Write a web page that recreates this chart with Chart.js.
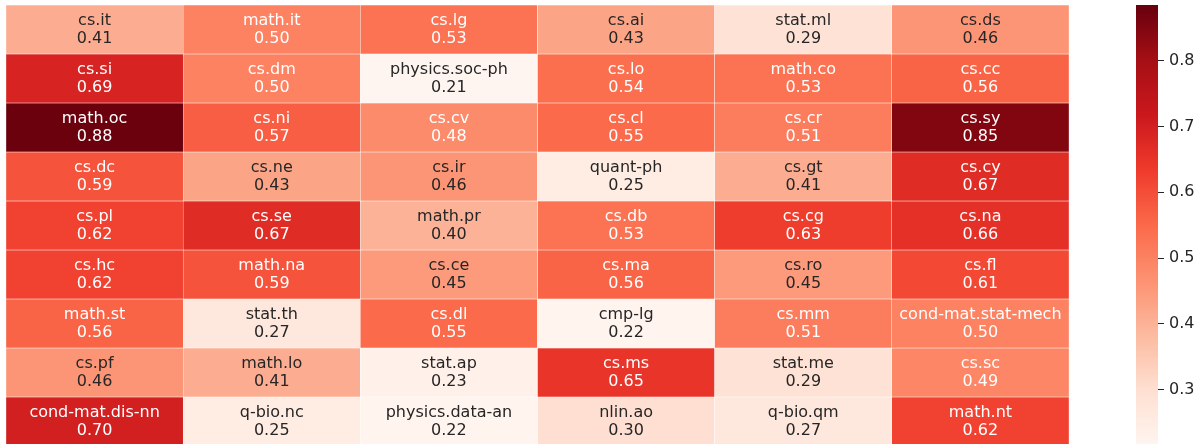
<!DOCTYPE html>
<html><head><meta charset="utf-8">
<script src="https://cdn.jsdelivr.net/npm/chart.js@4/dist/chart.umd.min.js"></script>
<style>
html,body{margin:0;padding:0;background:#fff;overflow:hidden;}
#wrap{position:relative;width:1203px;height:444px;overflow:hidden;}
#hm{position:absolute;left:0;top:0;}
#cb{position:absolute;left:1100px;top:0;}
</style>
</head><body>
<div id="wrap"><canvas id="hm" width="1203" height="450"></canvas><canvas id="cb" width="103" height="450"></canvas></div>
<script>
const columns = ['c1','c2','c3','c4','c5','c6'];
const cellLabels = [
  ['cs.it','math.it','cs.lg','cs.ai','stat.ml','cs.ds'],
  ['cs.si','cs.dm','physics.soc-ph','cs.lo','math.co','cs.cc'],
  ['math.oc','cs.ni','cs.cv','cs.cl','cs.cr','cs.sy'],
  ['cs.dc','cs.ne','cs.ir','quant-ph','cs.gt','cs.cy'],
  ['cs.pl','cs.se','math.pr','cs.db','cs.cg','cs.na'],
  ['cs.hc','math.na','cs.ce','cs.ma','cs.ro','cs.fl'],
  ['math.st','stat.th','cs.dl','cmp-lg','cs.mm','cond-mat.stat-mech'],
  ['cs.pf','math.lo','stat.ap','cs.ms','stat.me','cs.sc'],
  ['cond-mat.dis-nn','q-bio.nc','physics.data-an','nlin.ao','q-bio.qm','math.nt']
];
const cellValues = [
  [0.41,0.50,0.53,0.43,0.29,0.46],
  [0.69,0.50,0.21,0.54,0.53,0.56],
  [0.88,0.57,0.48,0.55,0.51,0.85],
  [0.59,0.43,0.46,0.25,0.41,0.67],
  [0.62,0.67,0.40,0.53,0.63,0.66],
  [0.62,0.59,0.45,0.56,0.45,0.61],
  [0.56,0.27,0.55,0.22,0.51,0.50],
  [0.46,0.41,0.23,0.65,0.29,0.49],
  [0.70,0.25,0.22,0.30,0.27,0.62]
];
const colorMin = 0.2145;
const colorMax = 0.8845;
const colorbarTicks = [0.3,0.4,0.5,0.6,0.7,0.8];

const redsStops = [[255,245,240],[254,224,210],[252,187,161],[252,146,114],[251,106,74],[239,59,44],[203,24,29],[165,15,21],[103,0,13]];
function redsRGB(t){
  t=Math.max(0,Math.min(1,t));
  const p=t*(redsStops.length-1); const i=Math.min(Math.floor(p),redsStops.length-2); const f=p-i;
  const a=redsStops[i], b=redsStops[i+1];
  return [0,1,2].map(k=>a[k]+(b[k]-a[k])*f);
}
function colorFor(v){ const c=redsRGB((v-colorMin)/(colorMax-colorMin)); return `rgb(${c.map(Math.round).join(',')})`; }
function textColor(v){
  const c=redsRGB((v-colorMin)/(colorMax-colorMin)).map(x=>{x/=255;return x<=0.03928?x/12.92:Math.pow((x+0.055)/1.055,2.4);});
  const lum=0.2126*c[0]+0.7152*c[1]+0.0722*c[2];
  return lum>0.408?'#262626':'#ffffff';
}

const FONT='"DejaVu Sans", sans-serif';
const annot={
  id:'annot',
  afterDatasetsDraw(chart){
    const ctx=chart.ctx; ctx.save();
    ctx.font='16px '+FONT; ctx.textAlign='center'; ctx.textBaseline='middle';
    chart.data.datasets.forEach((ds,r)=>{
      chart.getDatasetMeta(r).data.forEach((el,c)=>{
        const v=cellValues[r][c];
        const cy=(el.y+el.base)/2;
        ctx.fillStyle=textColor(v);
        ctx.fillText(cellLabels[r][c], el.x, cy-8.5);
        ctx.fillText(v.toFixed(2), el.x, cy+9);
      });
    });
    ctx.restore();
  }
};

new Chart(document.getElementById('hm'),{
  type:'bar',
  data:{labels:columns,datasets:cellValues.map((row,r)=>({
    data:row.map(()=>[r,r+1]),
    backgroundColor:row.map(colorFor),
    borderColor:'rgba(255,255,255,0.85)',
    borderWidth:0.5,
    borderSkipped:false,
    grouped:false,
    categoryPercentage:1,barPercentage:1
  }))},
  options:{
    responsive:false,animation:false,
    layout:{padding:{left:6,top:5,right:134,bottom:4}},
    plugins:{legend:{display:false},tooltip:{enabled:false}},
    scales:{
      x:{display:false},
      y:{display:false,min:0,max:cellValues.length,reverse:true}
    }
  },
  plugins:[annot]
});

new Chart(document.getElementById('cb'),{
  type:'bar',
  data:{labels:['cb'],datasets:[{
    data:[[colorMin,colorMax]],
    backgroundColor:(ctx)=>{
      const ca=ctx.chart.chartArea; if(!ca) return '#fff';
      const g=ctx.chart.ctx.createLinearGradient(0,ca.bottom,0,ca.top);
      redsStops.forEach((s,i)=>g.addColorStop(i/(redsStops.length-1),`rgb(${s.join(',')})`));
      return g;
    },
    borderWidth:0,categoryPercentage:1,barPercentage:1
  }]},
  options:{
    responsive:false,animation:false,
    layout:{padding:{left:36,top:5,right:0,bottom:4}},
    plugins:{legend:{display:false},tooltip:{enabled:false}},
    scales:{
      x:{display:false},
      y:{position:'right',min:colorMin,max:colorMax,
        afterBuildTicks:(s)=>{s.ticks=colorbarTicks.map(v=>({value:v}));},
        afterFit:(s)=>{s.width=45;s.paddingTop=0;s.paddingBottom=0;},
        ticks:{padding:5,color:'#262626',font:{family:FONT,size:16},callback:(v)=>Number(v).toFixed(1)},
        grid:{drawOnChartArea:false,drawTicks:true,tickLength:6,color:'#262626',lineWidth:1},
        border:{display:false}
      }
    }
  }
});
</script>
</body></html>
